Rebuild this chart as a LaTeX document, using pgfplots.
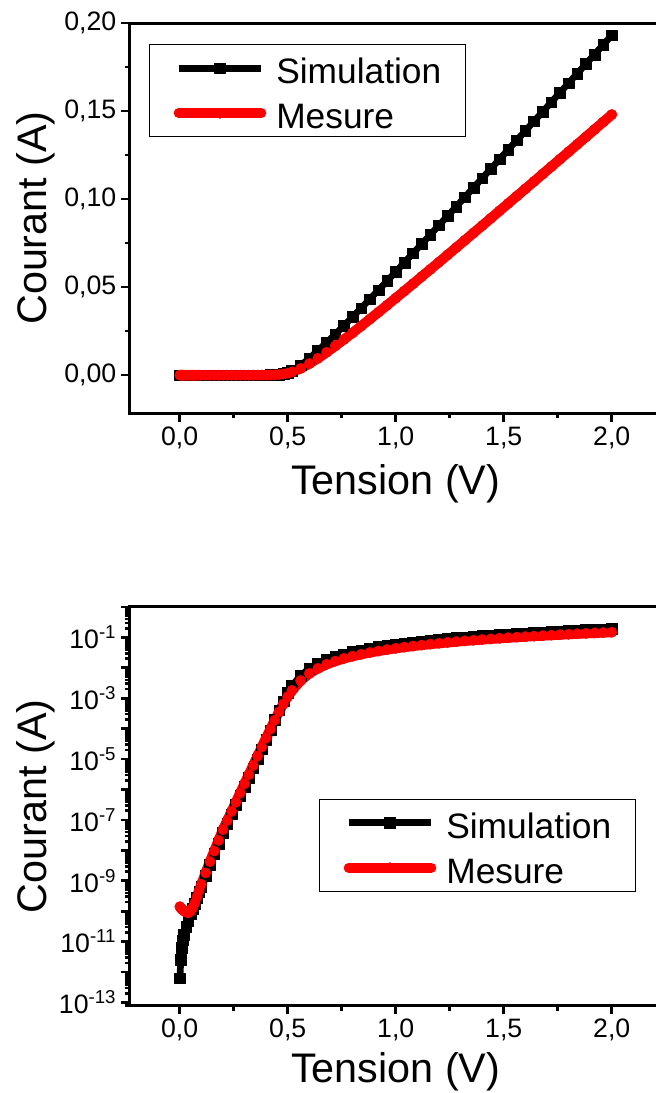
\documentclass[border=0pt]{standalone}
\usepackage{fontspec}
\setmainfont{Liberation Sans}
\usepackage{pgfplots}
\pgfplotsset{compat=1.18}
\usepackage{pgfplotstable}

\pgfplotstableread{
V S M
0.001 6.3e-13 1.41e-10
0.005 2.5e-12 1.29e-10
0.01 6.3e-12 1.17e-10
0.015 1.12e-11 1.10e-10
0.02 1.66e-11 1.02e-10
0.03 3.16e-11 9.3e-11
0.04 5.0e-11 8.9e-11
0.05 7.9e-11 1.0e-10
0.06 1.2e-10 1.32e-10
0.07 1.8e-10 1.9e-10
0.08 2.8e-10 3.0e-10
0.09 4.3e-10 4.8e-10
0.10 6.5e-10 7.6e-10
0.12 1.45e-9 1.82e-9
0.14 3.4e-9 4.27e-9
0.16 7.6e-9 9.55e-9
0.18 1.7e-8 2.14e-8
0.20 3.8e-8 4.79e-8
0.22 7.7e-8 9.6e-8
0.24 1.54e-7 1.92e-7
0.26 3.1e-7 3.85e-7
0.28 6.2e-7 7.73e-7
0.30 1.24e-6 1.55e-6
0.32 2.5e-6 3.10e-6
0.34 5.0e-6 6.22e-6
0.36 1.0e-5 1.25e-5
0.38 2.1e-5 2.50e-5
0.40 4.3e-5 4.92e-5
0.42 9.0e-5 9.7e-5
0.44 1.95e-4 1.90e-4
0.46 4.0e-4 3.6e-4
0.48 8.0e-4 6.55e-4
0.50 1.5e-3 1.13e-3
0.52 2.6e-3 1.81e-3
0.56 5.6e-3 3.81e-3
0.60 9.5e-3 6.54e-3
0.64 0.0140 0.00957
0.68 0.01853 0.01299
0.72 0.02323 0.01657
0.76 0.02809 0.02026
0.80 0.03305 0.02404
0.84 0.03807 0.02788
0.88 0.04316 0.0318
0.92 0.04831 0.03576
0.96 0.05348 0.03974
1.00 0.0587 0.04377
1.04 0.06395 0.04782
1.08 0.0692 0.05189
1.12 0.07447 0.05596
1.16 0.07976 0.06006
1.20 0.0851 0.06417
1.24 0.09039 0.0683
1.28 0.09573 0.07245
1.32 0.10107 0.07661
1.36 0.10644 0.08076
1.40 0.11182 0.0849
1.44 0.1172 0.08908
1.48 0.12258 0.09327
1.52 0.12798 0.09745
1.56 0.13337 0.10164
1.60 0.13877 0.10581
1.64 0.14417 0.11001
1.68 0.14958 0.11421
1.72 0.15501 0.11842
1.76 0.16047 0.12262
1.80 0.16585 0.12684
1.84 0.17129 0.13106
1.88 0.17673 0.13528
1.92 0.18216 0.13951
1.96 0.1876 0.14374
2.00 0.1930 0.148
}\ivdata

\gdef\minorlist{}
\foreach \e in {-14,...,-1}{\foreach \m in {2,...,9}{\xdef\minorlist{\minorlist\m e\e,}}}

\pgfplotsset{
  myaxis/.style={
    scale only axis, width=398.6pt,
    xmin=-0.23, xmax=2.23,
    xtick={0,0.5,1,1.5,2},
    xticklabels={{0,0},{0,5},{1,0},{1,5},{2,0}},
    minor x tick num=1,
    scaled ticks=false,
    tick align=outside, tick pos=left,
    major tick length=6.75pt, minor tick length=4pt,
    every tick/.style={line width=2pt, black},
    axis line style={line width=2.25pt},
    ticklabel style={font=\fontsize{20}{24}\selectfont},
    xlabel={Tension (V)}, ylabel={Courant (A)},
    every axis x label/.style={at={(rel axis cs:0.5,0)}, anchor=center, yshift=-53pt, font=\fontsize{31}{36}\selectfont},
    every axis y label/.style={at={(rel axis cs:0,0.5)}, anchor=center, xshift=-71pt, rotate=90, font=\fontsize{31}{36}\selectfont},
    legend cell align=left,
    legend image code/.code={\draw[mark repeat=2,mark phase=2,#1] plot coordinates {(0pt,0pt) (31pt,0pt) (62pt,0pt)};},
    legend style={draw=black, line width=1pt, font=\fontsize{26.5}{30}\selectfont,
      inner xsep=18pt, inner ysep=5.6pt, row sep=9.75pt,
      nodes={inner sep=0pt, text height=23.5pt, text depth=0.5pt},
      /tikz/every odd column/.append style={column sep=7.5pt}},
  },
  simstyle/.style={black, line width=5pt, line join=round, mark=square*, mark size=4pt, mark options={solid, line width=0.3pt}},
  messtyle/.style={red, line width=7.5pt, line join=round, line cap=round, mark=*, mark size=3.9pt, mark options={solid, line width=0.3pt}},
}

\begin{document}
\begin{tikzpicture}
\path[use as bounding box] (0,0) rectangle (492pt,-819.75pt);
\begin{axis}[myaxis,
  at={(97.5pt,-309.75pt)}, anchor=south west, height=292.5pt,
  ymin=-0.0215, ymax=0.2,
  ytick={0,0.05,0.1,0.15,0.2},
  yticklabels={{0,00},{0,05},{0,10},{0,15},{0,20}},
  minor y tick num=1,
  legend style={at={(0.0357,0.946)}, anchor=north west},
]
\addplot[simstyle] table[x=V,y=S]{\ivdata};
\addlegendentry{Simulation}
\addplot[messtyle] table[x=V,y=M]{\ivdata};
\addlegendentry{Mesure}
\end{axis}
\begin{axis}[myaxis,
  at={(97.5pt,-754.1pt)}, anchor=south west, height=298.9pt,
  every axis x label/.append style={yshift=3pt},
  ymode=log, ymin=8e-14, ymax=1,
  ytick={1e-13,1e-12,1e-11,1e-10,1e-9,1e-8,1e-7,1e-6,1e-5,1e-4,1e-3,1e-2,1e-1,1},
  yticklabels={10\textsuperscript{-13},,10\textsuperscript{-11},,10\textsuperscript{-9},,10\textsuperscript{-7},,10\textsuperscript{-5},,10\textsuperscript{-3},,10\textsuperscript{-1},},
  minor ytick/.expanded={\minorlist 1e-15},
  legend style={at={(0.3556,0.519)}, anchor=north west},
]
\addplot[simstyle] table[x=V,y=S]{\ivdata};
\addlegendentry{Simulation}
\addplot[messtyle] table[x=V,y=M]{\ivdata};
\addlegendentry{Mesure}
\end{axis}
\end{tikzpicture}
\end{document}
